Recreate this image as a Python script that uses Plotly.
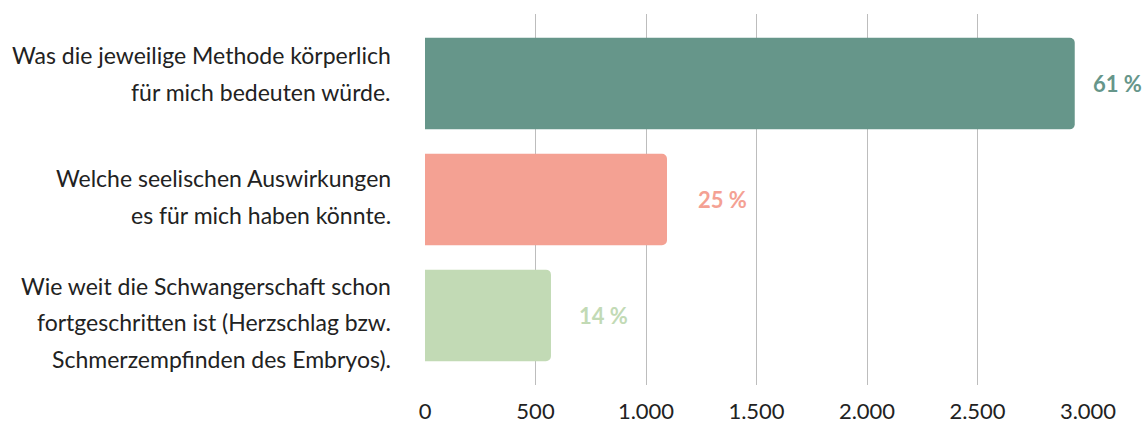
import plotly.graph_objects as go

# Daten
labels = [
    ["Was die jeweilige Methode körperlich", "für mich bedeuten würde."],
    ["Welche seelischen Auswirkungen", "es für mich haben könnte."],
    ["Wie weit die Schwangerschaft schon", "fortgeschritten ist (Herzschlag bzw.", "Schmerzempfinden des Embryos)."],
]
values = [2940, 1095, 570]
percent = ["61 %", "25 %", "14 %"]
colors = ["#66968A", "#F4A193", "#C2DAB5"]
tick_vals = [0, 500, 1000, 1500, 2000, 2500, 3000]

FONT = "Lato"
positions = list(range(len(values)))

fig = go.Figure()
fig.add_trace(go.Bar(
    x=values, y=positions, orientation="h",
    marker=dict(color=colors, line=dict(width=0), cornerradius=5),
    width=0.79, hoverinfo="skip",
))

# Kategorie-Beschriftungen links (Zeile für Zeile, größerer Zeilenabstand)
line_gap = 36.5
block_shift = [10, 3, -7]
for i, lines in enumerate(labels):
    n = len(lines)
    for j, line in enumerate(lines):
        fig.add_annotation(
            xref="paper", x=0, xanchor="right", xshift=-32,
            y=positions[i], yanchor="middle",
            yshift=((n - 1) / 2 - j) * line_gap + block_shift[i],
            text=line, showarrow=False,
            font=dict(family=FONT, size=23, color="#222222"),
        )

# Prozentwerte rechts neben den Balken
pct_shift = [16, 29, 26]
for i, p in enumerate(percent):
    fig.add_annotation(
        x=values[i], y=positions[i], xanchor="left", yanchor="middle",
        xshift=pct_shift[i], text="<b>" + p + "</b>", showarrow=False,
        font=dict(family=FONT, size=22, color=colors[i]),
    )

fig.update_layout(
    width=1146, height=425,
    margin=dict(l=425, r=58, t=14, b=40),
    paper_bgcolor="white", plot_bgcolor="white",
    separators=",.",
    showlegend=False,
    font=dict(family=FONT, size=22, color="#222222"),
)
fig.update_xaxes(
    range=[0, 3000], tickvals=tick_vals, tickformat=",d",
    showgrid=True, gridcolor="#BDBDBD", gridwidth=1,
    zeroline=False, showline=False, ticks="", ticklabelstandoff=11,
    automargin=False,
    tickfont=dict(family=FONT, size=22, color="#222222"),
)
fig.update_yaxes(
    range=[2.6, -0.6], showticklabels=False, showgrid=False,
    zeroline=False, showline=False, automargin=False,
)

fig.write_html(
    "out.html",
    config={"displayModeBar": False},
    post_script="document.body.style.margin='0';",
)
